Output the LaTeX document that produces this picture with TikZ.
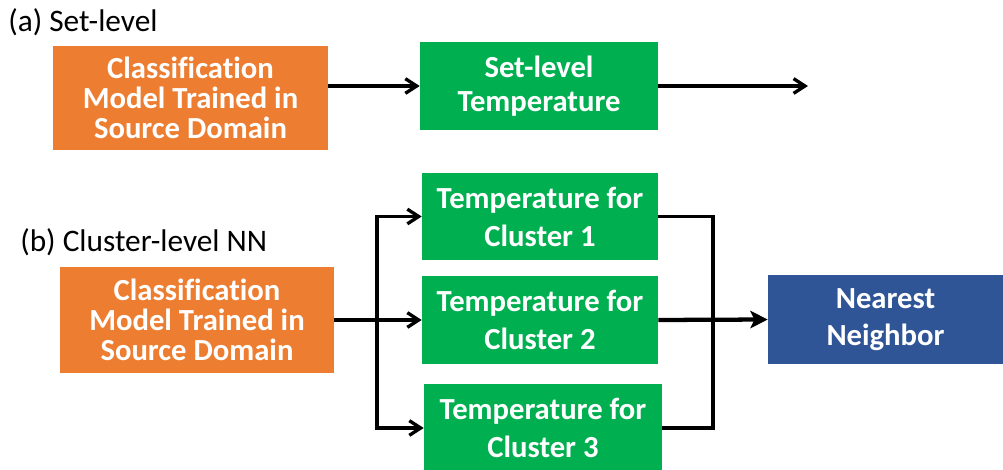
\documentclass[tikz,border=0pt]{standalone}
\usepackage{fontspec}
\setmainfont[Ligatures=NoCommon]{Carlito}
\usetikzlibrary{arrows.meta}
\newlength\pxu
\setlength\pxu{0.75pt}
\newcommand\boxfont[1]{\fontsize{23}{#1}\selectfont\bfseries}
\definecolor{boxorange}{HTML}{ED7D31}
\definecolor{boxgreen}{HTML}{00B050}
\definecolor{boxblue}{HTML}{2F5597}
\tikzset{
  blk/.style={rectangle, inner sep=0pt, align=center, text=white, draw=none},
  orangebox/.style={blk, fill=boxorange},
  greenbox/.style={blk, fill=boxgreen},
  bluebox/.style={blk, fill=boxblue},
  lbl/.style={anchor=base west, inner sep=0pt, font=\fontsize{23.5}{28}\selectfont},
  link/.style={line width=2.5pt, line join=miter},
  arr/.style={link, -{Straight Barb[length=8.5pt,width=11pt,line width=2.5pt]}},
  mainarr/.style={line width=3.2pt, -{Stealth[length=13pt,width=13pt,inset=3pt]}},
}
\begin{document}
\begin{tikzpicture}[x=0.75pt,y=-0.75pt]
\useasboundingbox (0,0) rectangle (1003,470);

% (a) set-level pipeline
\node[lbl] (la) at (8,32) {(a) Set-level};
\node[orangebox, minimum width=275\pxu, minimum height=104\pxu,
      font=\boxfont{22.5pt}] (oa) at (190.5,98)
  {Classification\\Model Trained in\\Source Domain};
\node[greenbox, minimum width=238\pxu, minimum height=88\pxu,
      font=\boxfont{25pt}] (ga) at (539,86)
  {Set-level\\Temperature};
\coordinate (aout) at (808,86);
\draw[arr] (oa.east |- ga.west) -- (ga.west);
\draw[arr] (ga.east) -- (aout);

% (b) cluster-level pipeline
\node[lbl] (lb) at (20,252) {(b) Cluster-level NN};
\node[orangebox, minimum width=274\pxu, minimum height=106\pxu,
      font=\boxfont{22.5pt}] (ob) at (197,320)
  {Classification\\Model Trained in\\Source Domain};
\node[greenbox, minimum width=236\pxu, minimum height=87\pxu,
      font=\boxfont{28.5pt}] (c1) at (540,216.5)
  {Temperature for\\Cluster 1};
\node[greenbox, minimum width=236\pxu, minimum height=88\pxu,
      font=\boxfont{28.5pt}] (c2) at (540,320)
  {Temperature for\\Cluster 2};
\node[greenbox, minimum width=238\pxu, minimum height=88\pxu,
      font=\boxfont{28.5pt}] (c3) at (543,428)
  {Temperature for\\Cluster 3};
\node[bluebox, minimum width=235\pxu, minimum height=89\pxu,
      font=\boxfont{27.5pt}] (nn) at (885.5,319.5)
  {Nearest\\Neighbor};

% split and merge buses
\coordinate (bl) at (377,320);
\coordinate (br) at (713,320);
\draw[arr] (ob.east) -- (c2.west);
\draw[arr] (bl) |- (c1.west);
\draw[arr] (bl) |- (c3.west);
\draw[link] (c1.east) -| (br);
\draw[link] (c3.east) -| (br);
\draw[mainarr] (c2.east) -- (nn.west);
\end{tikzpicture}
\end{document}
